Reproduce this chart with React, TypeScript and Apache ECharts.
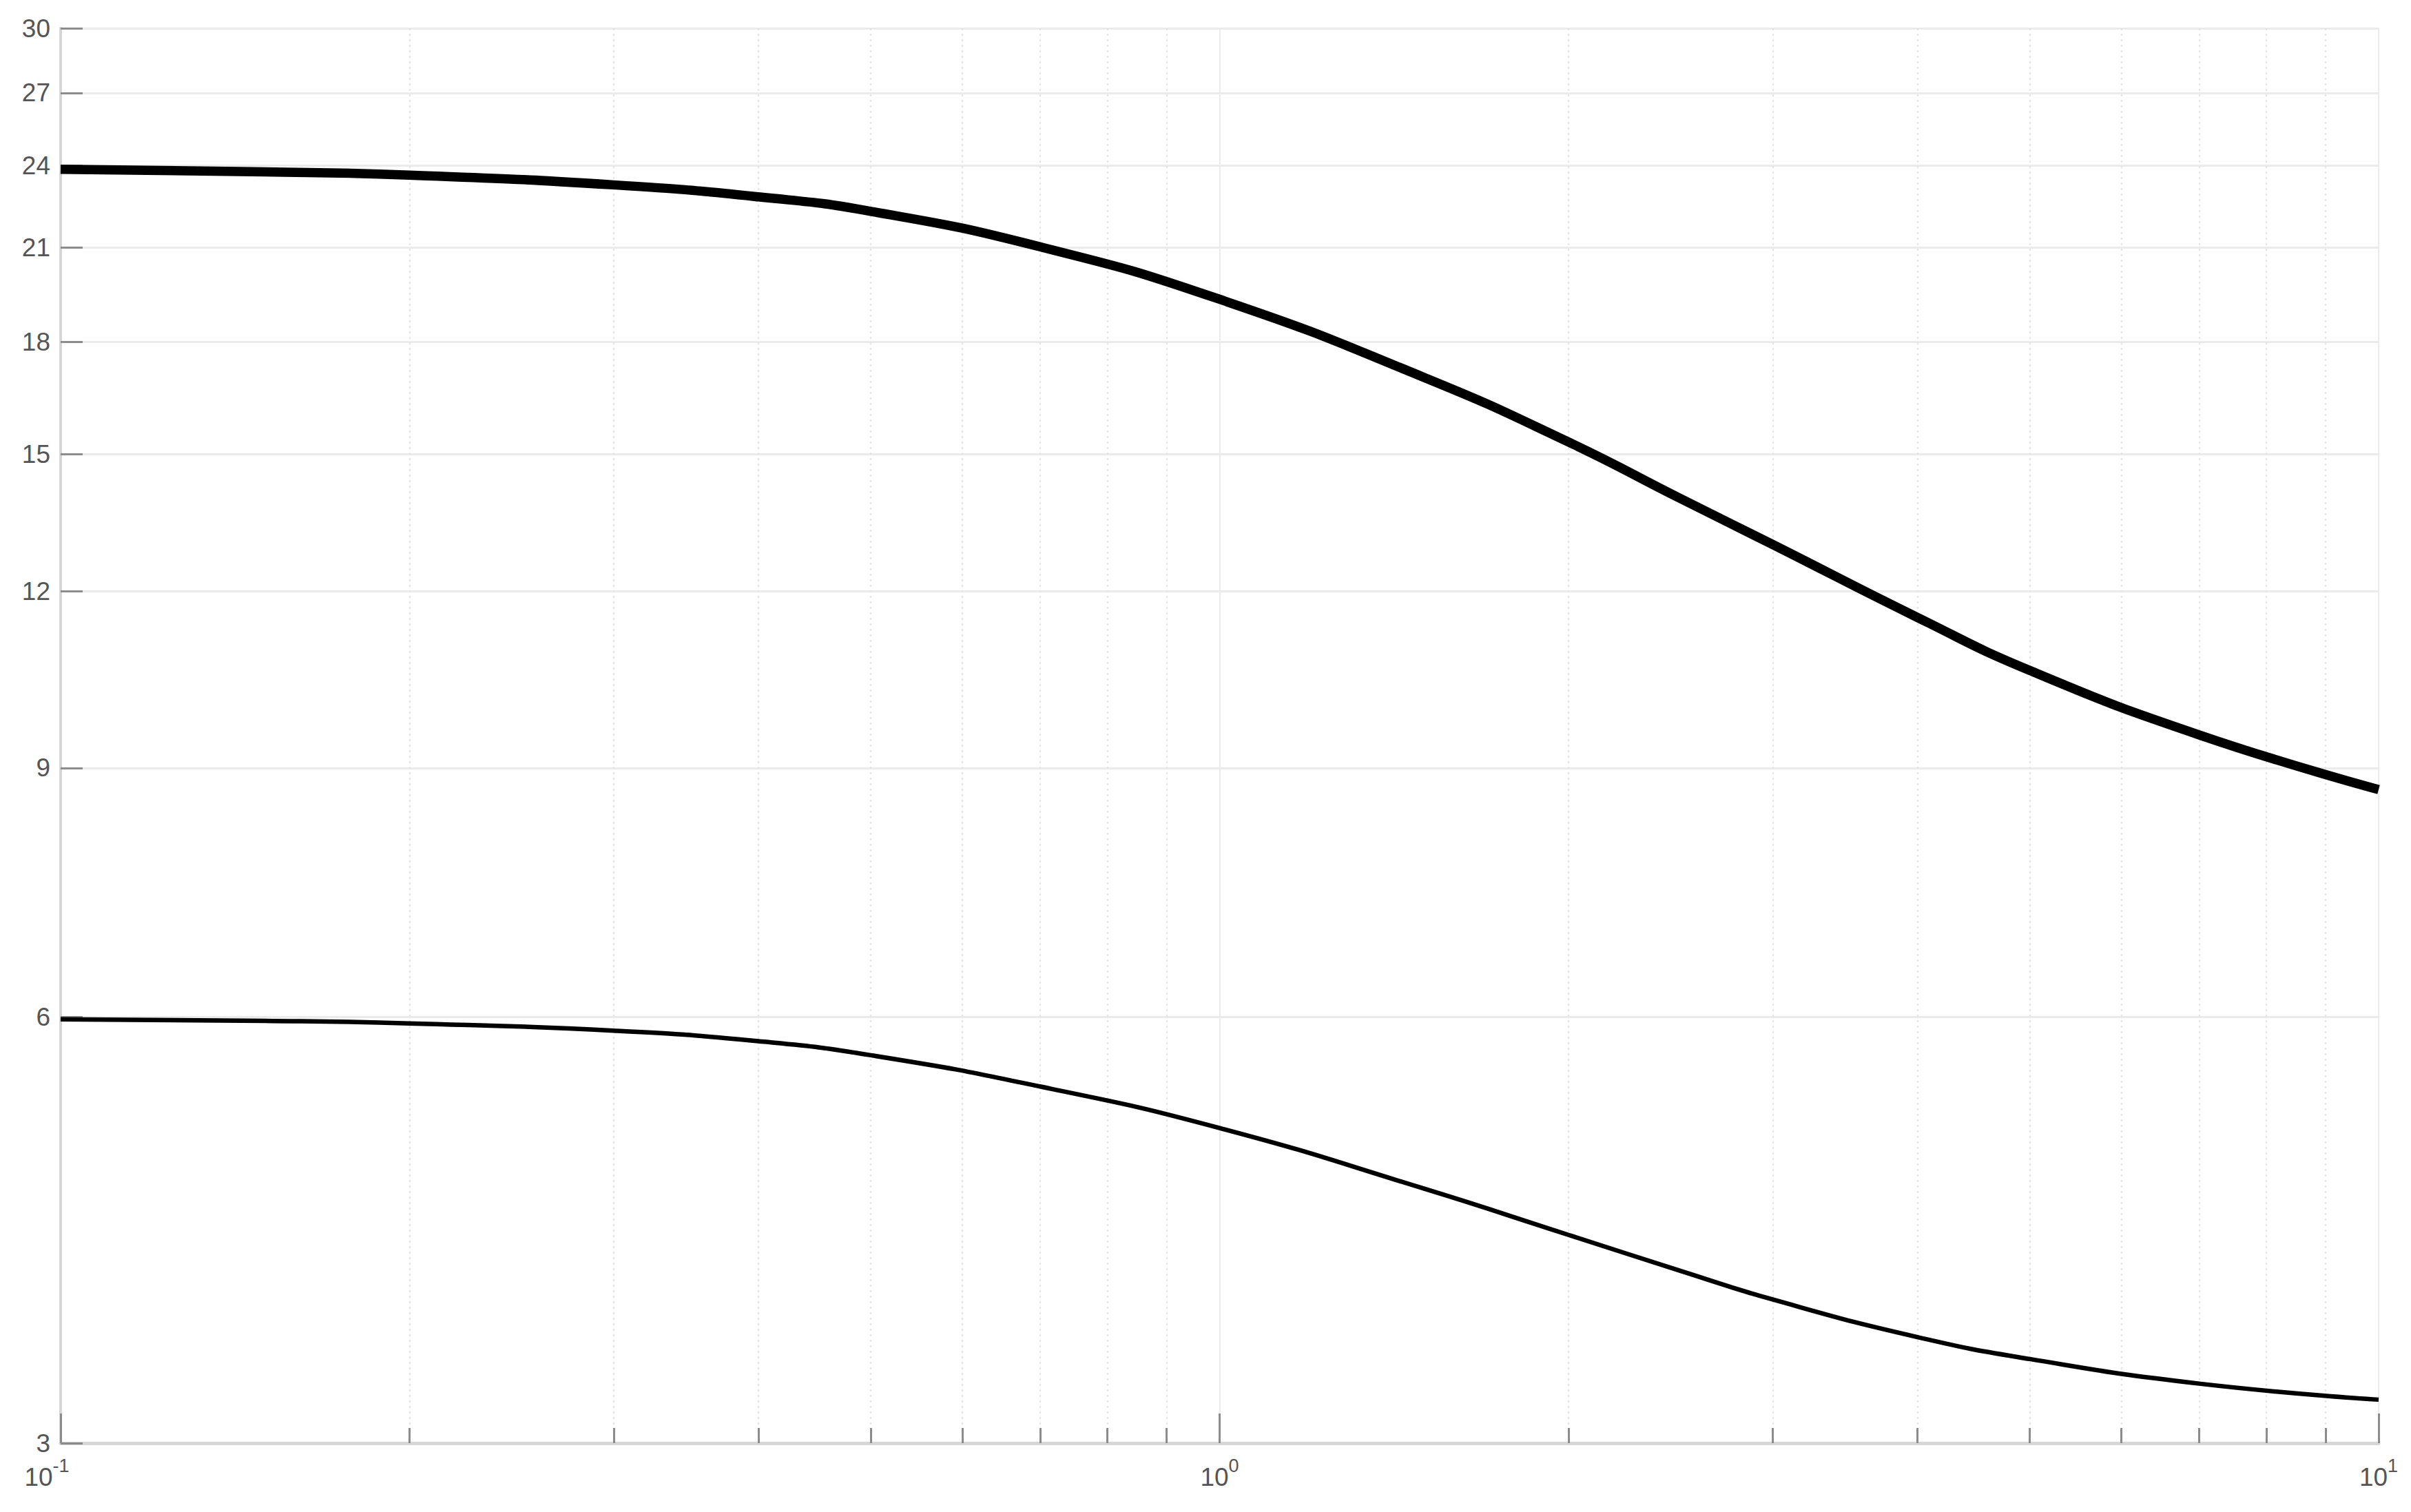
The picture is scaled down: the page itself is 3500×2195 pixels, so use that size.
import React, { useEffect, useRef } from "react";
import * as echarts from "echarts";

// Frequencies (x, log scale) and the two magnitude curves
const freq = [0.1, 0.15, 0.2, 0.3, 0.4, 0.5, 0.7, 1, 1.5, 2, 2.5, 3, 4, 5, 7, 10];
const upperMag = [23.85, 23.75, 23.62, 23.25, 22.8, 22.27, 21.02, 19.3, 17.0, 15.3, 13.95, 12.95, 11.5, 10.55, 9.5, 8.69];
const lowerMag = [5.98, 5.965, 5.94, 5.87, 5.77, 5.64, 5.36, 5.01, 4.54, 4.21, 3.97, 3.79, 3.565, 3.44, 3.305, 3.22];

// Tick values
const yTicks = [3, 6, 9, 12, 15, 18, 21, 24, 27, 30];
const xMajorTicks = [0.1, 1, 10];
const xMinorTicks = [0.2, 0.3, 0.4, 0.5, 0.6, 0.7, 0.8, 0.9, 2, 3, 4, 5, 6, 7, 8, 9];
const xTickBase = "10";
const xTickExponents = ["-1", "0", "1"];

const FONT = "'Liberation Sans Narrow', 'Liberation Sans', Arial, sans-serif";
const LABEL_COLOR = "#555555";
const TICK_COLOR = "#8c8c8c";

export default function App() {
  const ref = useRef<HTMLDivElement>(null);

  useEffect(() => {
    if (!ref.current) return;
    const chart = echarts.init(ref.current, null, { renderer: "svg" });

    const upperData = freq.map((f, i) => [f, upperMag[i]]);
    const lowerData = freq.map((f, i) => [f, lowerMag[i]]);

    const xLabelFormatter = (value: number) => {
      const e = Math.round(Math.log10(value));
      const idx = xMajorTicks.findIndex((t) => Math.round(Math.log10(t)) === e);
      const exp = idx >= 0 ? xTickExponents[idx] : String(e);
      return idx === 0
        ? `{a|${xTickBase}}{s|${exp}}{g|}`
        : `{a|${xTickBase}}{s|${exp}}`;
    };

    const option: any = {
      animation: false,
      backgroundColor: "#ffffff",
      grid: {
        left: 88,
        right: 47,
        top: 41,
        bottom: 100,
        containLabel: false,
        outerBoundsMode: "none",
      },
      xAxis: [
        {
          type: "log",
          logBase: 10,
          min: 0.1,
          max: 10,
          position: "bottom",
          axisLine: { show: true, lineStyle: { color: "#d6d6d6", width: 5 } },
          axisTick: {
            show: true,
            inside: true,
            length: 43,
            customValues: xMajorTicks,
            lineStyle: { color: TICK_COLOR, width: 3 },
          },
          axisLabel: {
            show: true,
            margin: 19,
            customValues: xMajorTicks,
            formatter: xLabelFormatter,
            rich: {
              a: { fontSize: 37, lineHeight: 60, fontFamily: FONT, color: LABEL_COLOR },
              s: { fontSize: 27, fontFamily: FONT, color: LABEL_COLOR, verticalAlign: "top" },
              g: { width: 40 },
            },
          },
          splitLine: { show: true, lineStyle: { color: "#ebebeb", width: 2, type: "solid" } },
        },
        {
          type: "log",
          logBase: 10,
          min: 0.1,
          max: 10,
          position: "bottom",
          axisLine: { show: false },
          axisTick: {
            show: true,
            inside: true,
            length: 22,
            customValues: xMinorTicks,
            lineStyle: { color: TICK_COLOR, width: 3 },
          },
          axisLabel: { show: false },
          splitLine: {
            show: true,
            lineStyle: { color: "#e4e4e4", width: 2, type: [3, 5] },
          },
        },
      ],
      yAxis: {
        type: "log",
        logBase: 10,
        min: 3,
        max: 30,
        axisLine: { show: true, lineStyle: { color: "#d6d6d6", width: 4 } },
        axisTick: {
          show: true,
          inside: true,
          length: 32,
          customValues: yTicks,
          lineStyle: { color: TICK_COLOR, width: 3 },
        },
        axisLabel: {
          show: true,
          margin: 15,
          customValues: yTicks,
          fontSize: 37,
          fontFamily: FONT,
          color: LABEL_COLOR,
          formatter: (v: number) => String(Math.round(v)),
        },
        splitLine: { show: true, lineStyle: { color: "#ebebeb", width: 3 } },
      },
      series: [
        {
          type: "line",
          xAxisIndex: 0,
          data: upperData,
          smooth: 0.5,
          showSymbol: false,
          symbol: "none",
          lineStyle: { color: "#000000", width: 13.5, join: "round" },
          z: 5,
        },
        {
          type: "line",
          xAxisIndex: 0,
          data: lowerData,
          smooth: 0.5,
          showSymbol: false,
          symbol: "none",
          lineStyle: { color: "#000000", width: 6.5, join: "round" },
          z: 5,
        },
      ],
    };

    chart.setOption(option);
    return () => chart.dispose();
  }, []);

  return (
    <div
      ref={ref}
      style={{ position: "absolute", left: 0, top: 0, width: 3500, height: 2195 }}
    />
  );
}
